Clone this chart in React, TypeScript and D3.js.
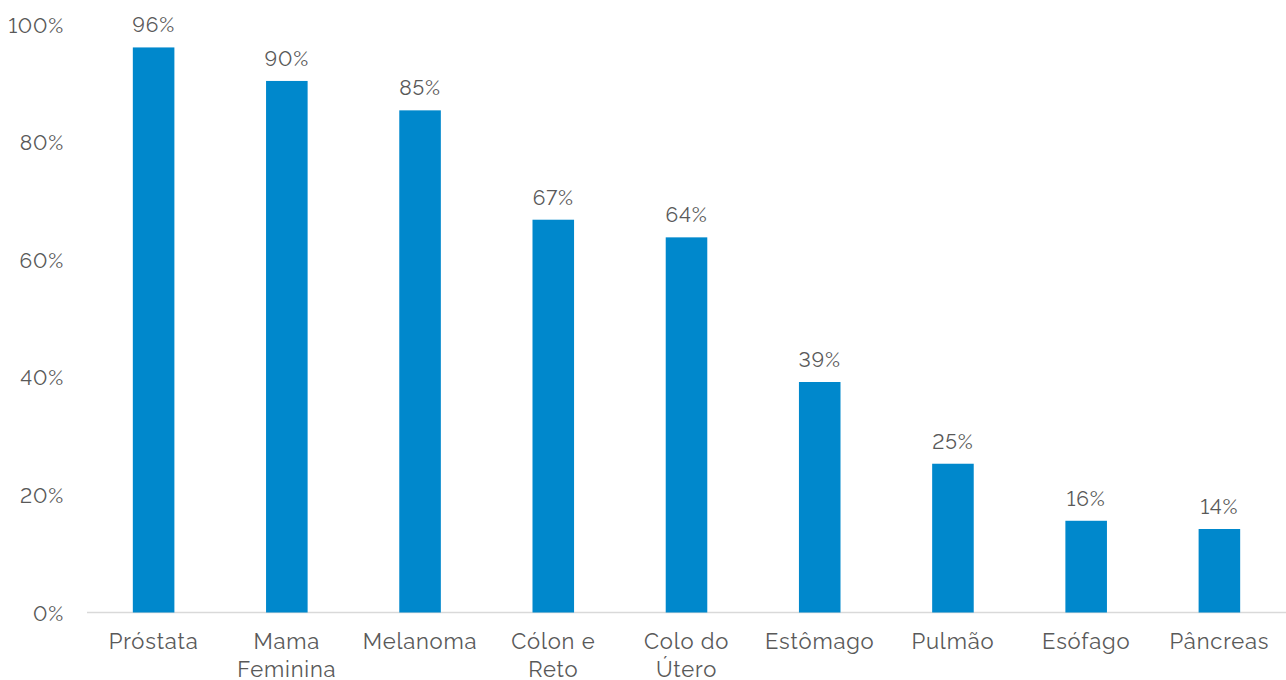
import React from "react";
import * as d3 from "d3";

const categories = ["Próstata", "Mama Feminina", "Melanoma", "Cólon e Reto", "Colo do Útero", "Estômago", "Pulmão", "Esófago", "Pâncreas"];
const categoryLines = [["Próstata"], ["Mama", "Feminina"], ["Melanoma"], ["Cólon e", "Reto"], ["Colo do", "Útero"], ["Estômago"], ["Pulmão"], ["Esófago"], ["Pâncreas"]];
const values = [96.1, 90.4, 85.4, 66.8, 63.8, 39.2, 25.3, 15.6, 14.2];
const yTicks = [0, 20, 40, 60, 80, 100];

const W = 1286;
const H = 680;
const M = { left: 87, right: 0, top: 24.5, bottom: 612.5 };
const FONT = "Raleway, 'Open Sans', sans-serif";
const TEXT = "#595959";
const BAR = "#0088cc";
const textStyle = { fontVariantNumeric: "lining-nums", letterSpacing: "0.8px" } as React.CSSProperties;

export default function App() {
  const x = d3.scaleBand<string>().domain(categories).range([M.left, W - M.right]).paddingInner(0.688).paddingOuter(0.344);
  const y = d3.scaleLinear().domain([0, 100]).range([M.bottom, M.top]);
  return (
    <svg width={W} height={H} style={{ position: "absolute", left: 0, top: 0, background: "#fff" }} fontFamily={FONT}>
      <line x1={M.left} x2={W - M.right} y1={y(0)} y2={y(0)} stroke="#d9d9d9" strokeWidth={1.5} />
      {yTicks.map((t) => (
        <text key={t} x={64} y={y(t) + 8} textAnchor="end" fontSize={21} fill={TEXT} style={textStyle}>
          {t}%
        </text>
      ))}
      {categories.map((c, i) => (
        <g key={c}>
          <rect x={x(c)} y={y(values[i])} width={x.bandwidth()} height={y(0) - y(values[i])} fill={BAR} />
          <text x={(x(c) as number) + x.bandwidth() / 2} y={y(values[i]) - 15} textAnchor="middle" fontSize={21} fill={TEXT} style={textStyle}>
            {Math.round(values[i])}%
          </text>
          {categoryLines[i].map((ln, j) => (
            <text key={j} x={(x(c) as number) + x.bandwidth() / 2} y={649 + j * 28} textAnchor="middle" fontSize={22} fill={TEXT} style={textStyle}>
              {ln}
            </text>
          ))}
        </g>
      ))}
    </svg>
  );
}
